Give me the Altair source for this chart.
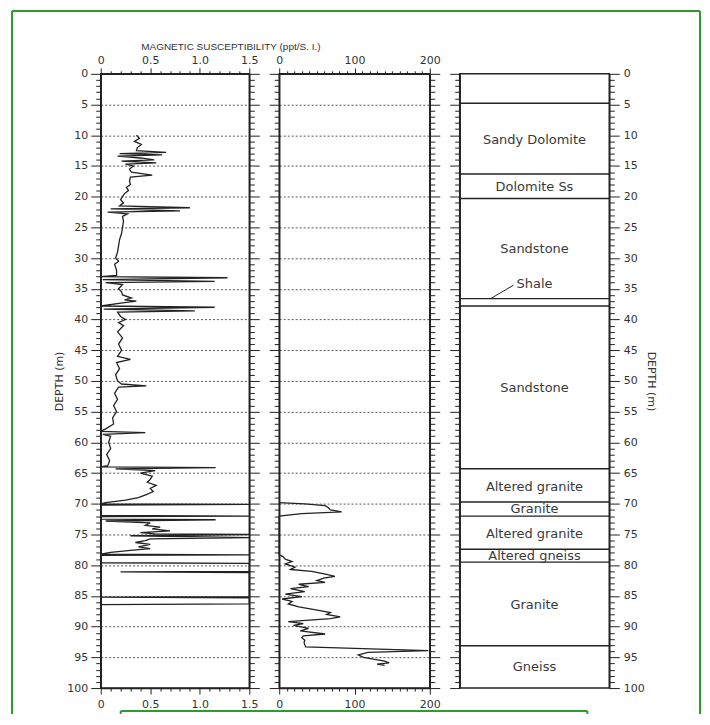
import altair as alt
import pandas as pd

# ---------------- data ----------------
# Panel 1: magnetic susceptibility, 0-1.5 scale (depth m, value)
low_depth = [10.0, 10.5, 11.0, 11.5, 12.0, 12.5, 12.8, 13.0, 13.2, 13.4, 13.7, 14.0, 14.2, 14.5, 14.7,
             15.0, 15.5, 16.0, 16.5, 16.8, 17.5, 18.0, 18.5, 19.0, 19.5, 20.0, 20.5, 21.0, 21.5, 21.8,
             22.0, 22.3, 22.5, 22.8, 23.2, 24.0, 25.0, 26.0, 27.0, 28.0, 29.0, 30.0, 30.5, 31.0, 32.0,
             32.8, 33.0, 33.2, 33.5, 33.8, 34.0, 34.3, 35.0, 35.5, 36.0, 36.5, 36.8, 37.0, 37.3, 37.8,
             38.0, 38.3, 38.6, 38.8, 39.5, 40.0, 40.5, 41.0, 42.0, 43.0, 44.0, 45.0, 46.0, 46.5, 47.0,
             48.0, 49.0, 50.0, 50.5, 50.8, 51.0, 52.0, 53.0, 54.0, 55.0, 56.0, 57.0, 57.8, 58.2, 58.4,
             58.7, 59.0, 60.0, 61.0, 62.0, 63.0, 63.8, 64.0, 64.1, 64.3, 64.6, 65.0, 65.5, 66.0, 66.5,
             67.0, 67.5, 68.0, 68.5, 69.0, 69.4, 69.8, 70.0, 70.1, 70.2, 71.9, 72.0, 72.1, 72.5, 72.6,
             72.8, 73.1, 73.5, 73.8, 74.1, 74.4, 74.7, 74.9, 75.0, 75.2, 75.5, 75.7, 76.0, 76.3, 76.6,
             77.0, 77.3, 77.6, 77.9, 78.2, 78.3, 78.4, 79.6, 79.7, 81.0, 81.1, 81.2, 85.1, 85.2, 85.3,
             86.3, 86.4]
low_value = [0.36, 0.39, 0.34, 0.41, 0.37, 0.36, 0.66, 0.19, 0.62, 0.17, 0.40, 0.54, 0.21, 0.56, 0.25,
             0.33, 0.29, 0.31, 0.52, 0.30, 0.29, 0.30, 0.26, 0.28, 0.24, 0.22, 0.20, 0.23, 0.19, 0.90,
             0.10, 0.80, 0.07, 0.27, 0.22, 0.23, 0.22, 0.21, 0.19, 0.18, 0.17, 0.15, 0.18, 0.14, 0.16,
             0.16, 0.00, 1.28, 0.02, 1.15, 0.05, 0.22, 0.18, 0.21, 0.22, 0.31, 0.24, 0.36, 0.22, 0.00,
             1.15, 0.03, 0.95, 0.17, 0.20, 0.25, 0.18, 0.23, 0.17, 0.22, 0.18, 0.21, 0.17, 0.30, 0.16,
             0.19, 0.15, 0.17, 0.21, 0.46, 0.18, 0.14, 0.17, 0.13, 0.16, 0.12, 0.13, 0.05, 0.00, 0.45,
             0.02, 0.10, 0.08, 0.10, 0.06, 0.09, 0.07, 0.00, 1.16, 0.15, 0.55, 0.40, 0.52, 0.50, 0.47,
             0.56, 0.50, 0.53, 0.46, 0.38, 0.25, 0.05, 0.00, 1.50, 0.00, 0.00, 1.50, 0.00, 0.00, 1.16,
             0.05, 0.50, 0.45, 0.60, 0.52, 0.70, 0.40, 0.55, 1.50, 0.30, 1.50, 0.50, 0.45, 0.35, 0.50,
             0.38, 0.50, 0.30, 0.10, 0.00, 1.50, 0.00, 0.00, 1.50, 1.50, 0.20, 1.50, 1.50, 0.00, 1.50,
             1.50, 0.00]

# Panel 2: magnetic susceptibility, 0-200 scale
high_depth = [69.8, 70.0, 70.3, 70.6, 71.0, 71.3, 71.6, 72.0, 78.3, 78.6, 79.0, 79.4, 79.8, 80.3, 80.7,
              81.0, 81.5, 81.8, 82.1, 82.5, 82.8, 83.1, 83.5, 83.8, 84.3, 84.7, 85.1, 85.5, 85.9, 86.3,
              86.8, 87.2, 87.7, 88.0, 88.4, 88.7, 89.2, 89.5, 89.8, 90.3, 90.7, 91.2, 91.5, 91.8, 92.2,
              92.6, 93.3, 93.9, 94.2, 94.6, 95.0, 95.3, 95.6, 95.9, 96.1, 96.3]
high_value = [0, 34, 61, 65, 68, 83, 30, 0, 0, 5, 8, 17, 8, 21, 15,
              43, 63, 74, 59, 50, 61, 26, 39, 15, 34, 8, 30, 4, 17, 12,
              26, 45, 68, 63, 81, 68, 12, 32, 19, 39, 28, 61, 32, 30, 34,
              33, 35, 198, 118, 105, 112, 125, 140, 146, 130, 140]

# Lithology column
boundary_depths = [4.8, 16.3, 20.3, 36.6, 37.8, 64.3, 69.7, 72.0, 77.4, 79.5, 93.1]
unit_names = ["Sandy Dolomite", "Dolomite Ss", "Sandstone", "Shale", "Sandstone",
              "Altered granite", "Granite", "Altered granite", "Altered gneiss", "Granite", "Gneiss"]
unit_label_depths = [10.7, 18.4, 28.6, 34.2, 51.2, 67.3, 70.9, 74.9, 78.5, 86.4, 96.5]
shale_pointer_depths = [36.6, 34.4]

depth_ticks = list(range(0, 101))
low_ticks = [round(i * 0.1, 1) for i in range(16)]
high_ticks = list(range(0, 201, 10))

# ---------------- styles ----------------
INK = "#222222"
TEXT = "#333333"
GREEN = "#2f9a2f"
FONT = "DejaVu Sans"

depth_scale = alt.Scale(domain=[0, 100], reverse=True, nice=False, zero=False)
low_scale = alt.Scale(domain=[0, 1.5], nice=False, zero=False)
high_scale = alt.Scale(domain=[0, 200], nice=False, zero=False)
col_scale = alt.Scale(domain=[0, 1], nice=False, zero=False)

MAJ5 = "datum.value % 5 === 0"


def cond(test, major, minor):
    return {"condition": {"test": test, "value": major}, "value": minor}


def depth_axis(orient, labels, title=None, grid=False):
    kw = dict(orient=orient, values=depth_ticks, tickSize=cond(MAJ5, 10, 5), tickColor=INK,
              tickWidth=1, domainColor=INK, domainWidth=1.5, labels=labels, grid=grid,
              labelOverlap=False, title=title)
    if labels:
        kw.update(labelExpr="datum.value % 5 === 0 ? datum.label : ''", labelFont=FONT,
                  labelFontSize=11, labelColor=TEXT, labelPadding=3 if orient == "left" else 4)
    if grid:
        kw.update(gridDash=[2, 2], gridColor="#555555", gridWidth=1,
                  gridOpacity=cond(MAJ5 + " && datum.value > 0 && datum.value < 100", 1, 0))
    if title:
        kw.update(titleFont=FONT, titleFontSize=11, titleFontWeight="normal", titleColor=TEXT,
                  titlePadding=2 if orient == "left" else 1)
    return alt.Axis(**kw)


def value_axis(orient, ticks, test, label_expr):
    return alt.Axis(orient=orient, values=ticks, tickSize=cond(test, 6, 3), tickColor=INK,
                    tickWidth=1, domainColor=INK, domainWidth=1.5, labelExpr=label_expr,
                    labelFont=FONT, labelFontSize=11, labelColor=TEXT, labelOverlap=False,
                    labelFlush=False, labelPadding=2 if orient == "top" else 4, grid=False,
                    title=None)


LOW_TEST = "abs(datum.value * 2 - round(datum.value * 2)) < 0.001"
LOW_LABEL = LOW_TEST + " ? (datum.value == 0 ? '0' : format(datum.value, '.1f')) : ''"
HIGH_TEST = "datum.value % 100 === 0"
HIGH_LABEL = HIGH_TEST + " ? datum.label : ''"

low_df = pd.DataFrame({"depth": low_depth, "value": low_value, "idx": range(len(low_depth))})
high_df = pd.DataFrame({"depth": high_depth, "value": high_value, "idx": range(len(high_depth))})
bound_df = pd.DataFrame({"depth": boundary_depths, "mid": 0.5})
label_df = pd.DataFrame({"depth": unit_label_depths, "name": unit_names, "mid": 0.5})
pointer_df = pd.DataFrame({"d1": [shale_pointer_depths[0]], "d2": [shale_pointer_depths[1]]})
one = pd.DataFrame({"k": [0]})


def log_panel(df, xscale, ticks, test, label_expr, left_labels, left_title):
    line = alt.Chart(df).mark_line(color=INK, strokeWidth=1.3, clip=False).encode(
        x=alt.X("value:Q", scale=xscale, axis=value_axis("top", ticks, test, label_expr)),
        y=alt.Y("depth:Q", scale=depth_scale,
                axis=depth_axis("left", left_labels, left_title, grid=True)),
        order=alt.Order("idx:Q"),
    )
    ghost = alt.Chart(df).mark_line(opacity=0).encode(
        x=alt.X("value:Q", scale=xscale, axis=value_axis("bottom", ticks, test, label_expr)),
        y=alt.Y("depth:Q", scale=depth_scale, axis=depth_axis("right", False)),
        order=alt.Order("idx:Q"),
    )
    return alt.layer(ghost, line).resolve_axis(x="independent", y="independent")


p1 = log_panel(low_df, low_scale, low_ticks, LOW_TEST, LOW_LABEL, True, "DEPTH (m)").properties(
    width=149, height=616,
    title=alt.TitleParams("MAGNETIC SUSCEPTIBILITY (ppt/S. I.)", anchor="middle", dx=56,
                          font="Liberation Sans", fontSize=10, fontWeight="normal",
                          color=TEXT, offset=3),
)
p2 = log_panel(high_df, high_scale, high_ticks, HIGH_TEST, HIGH_LABEL, False, None).properties(
    width=151, height=616)

ghost3 = alt.Chart(bound_df).mark_tick(opacity=0).encode(
    x=alt.X("mid:Q", scale=col_scale, axis=None),
    y=alt.Y("depth:Q", scale=depth_scale, axis=depth_axis("right", True, "DEPTH (m)")))
rules = alt.Chart(bound_df).mark_rule(color=INK, strokeWidth=1.4).encode(
    y=alt.Y("depth:Q", scale=depth_scale, axis=depth_axis("left", False)))
labels3 = alt.Chart(label_df).mark_text(font=FONT, fontSize=13, color="#3a3a3a").encode(
    x=alt.X("mid:Q", scale=col_scale, axis=None),
    y=alt.Y("depth:Q", scale=depth_scale, axis=None), text="name:N")
pointer = alt.Chart(pointer_df).mark_rule(color=INK, strokeWidth=1).encode(
    x=alt.value(31), x2=alt.value(54),
    y=alt.Y("d1:Q", scale=depth_scale, axis=None), y2="d2:Q")


def green_line(x1, x2, y1, y2):
    return alt.Chart(one).mark_rule(color=GREEN, strokeWidth=2).encode(
        x=alt.value(x1), x2=alt.value(x2), y=alt.value(y1), y2=alt.value(y2))


# page frame (left, top, right) and caption box (left, top, right), relative to the column panel
frame_parts = [
    green_line(-449, -449, -63, 642),
    green_line(-449, 241, -63, -63),
    green_line(241, 241, -63, 642),
    green_line(-340, -340, 639, 642),
    green_line(-340, 128, 639, 639),
    green_line(128, 128, 639, 642),
]

p3 = alt.layer(ghost3, rules, labels3, pointer, *frame_parts).resolve_axis(
    y="independent").properties(width=150, height=616)

chart = alt.hconcat(p1, p2, p3, spacing=30, bounds="flush").configure_view(
    stroke=INK, strokeWidth=1.5).properties(
    padding={"left": 2, "top": 0, "right": 0, "bottom": 0}, background="white")

chart.save("out.html", embed_options={"renderer": "svg", "actions": False})
